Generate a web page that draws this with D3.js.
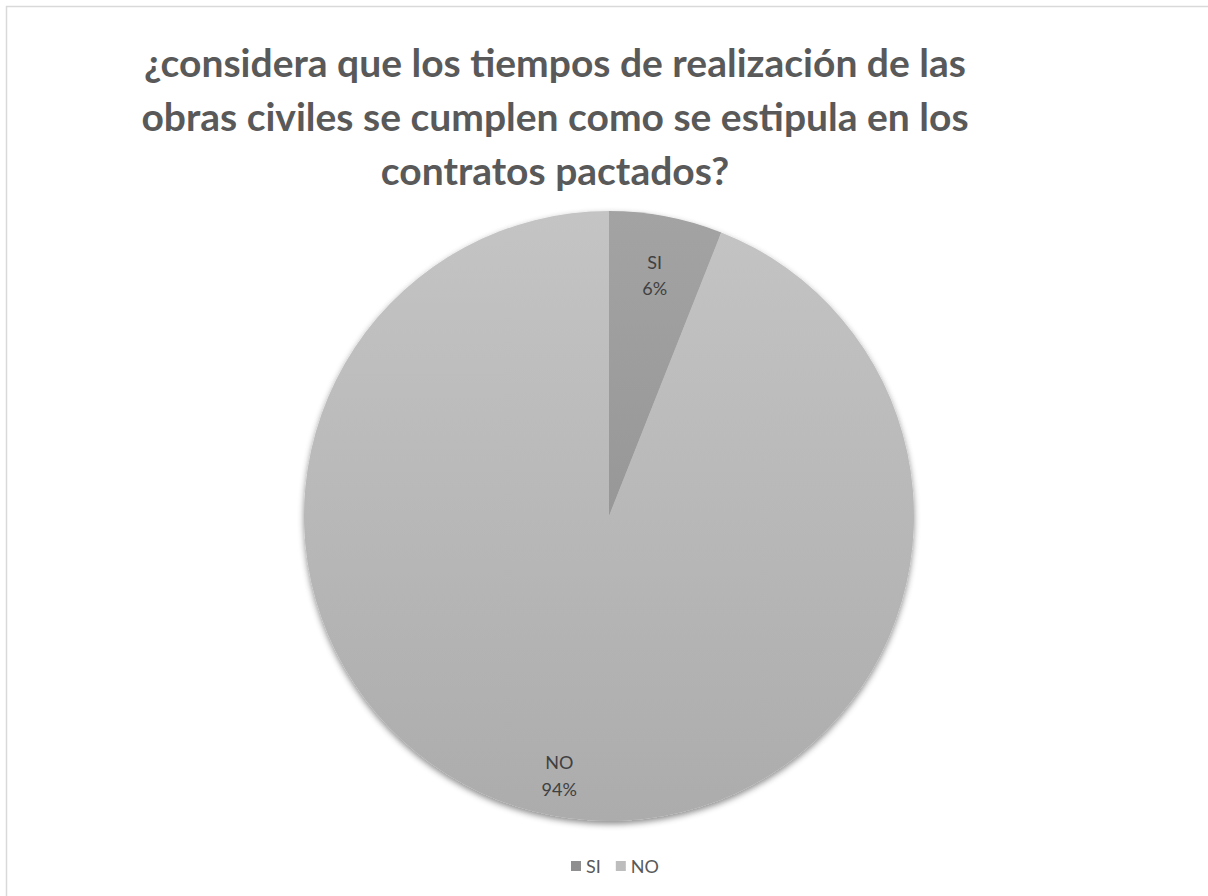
<!DOCTYPE html>
<html>
<head>
<meta charset="utf-8">
<script src="https://cdn.jsdelivr.net/npm/d3@7"></script>
<style>
  body { margin: 0; background: #fff; }
  svg { display: block; }
</style>
</head>
<body>
<svg id="chart" width="1208" height="896"></svg>
<script>
// chart data
var categories = ["SI", "NO"];
var values = [6, 94];
var titleLines = [
    "¿considera que los tiempos de realización de las",
    "obras civiles se cumplen como se estipula en los",
    "contratos pactados?"
];

var svg = d3.select("#chart");
var width = 1208, height = 896;
var cx = 609, cy = 516, radius = 305;

// chart area border (goes past right/bottom edge)
svg.append("rect")
    .attr("x", 6.5).attr("y", 6.5)
    .attr("width", 1220).attr("height", 910)
    .attr("fill", "#fff")
    .attr("stroke", "#d9d9d9")
    .attr("stroke-width", 1.5);

var defs = svg.append("defs");

var shadow = defs.append("filter").attr("id", "shadow")
    .attr("x", "-10%").attr("y", "-10%").attr("width", "120%").attr("height", "120%");
shadow.append("feDropShadow")
    .attr("dx", 0).attr("dy", 3)
    .attr("stdDeviation", 3)
    .attr("flood-color", "#000")
    .attr("flood-opacity", 0.45);

var gradColors = {
    SI: ["#a3a3a3", "#8c8c8c"],
    NO: ["#c4c4c4", "#acacac"]
};
categories.forEach(function(c) {
    var grad = defs.append("linearGradient").attr("id", "grad-" + c)
        .attr("gradientUnits", "userSpaceOnUse")
        .attr("x1", 0).attr("y1", -radius).attr("x2", 0).attr("y2", radius);
    grad.append("stop").attr("offset", "0%").attr("stop-color", gradColors[c][0]);
    grad.append("stop").attr("offset", "100%").attr("stop-color", gradColors[c][1]);
});

// title
var title = svg.append("text")
    .attr("text-anchor", "middle")
    .attr("font-family", "Lato, 'Open Sans', sans-serif")
    .attr("font-weight", "bold")
    .attr("font-size", 39)
    .attr("fill", "#595959");
titleLines.forEach(function(line, i) {
    title.append("tspan")
        .attr("x", 555)
        .attr("y", 77 + i * 54)
        .text(line);
});

var data = categories.map(function(c, i) { return { name: c, value: values[i] }; });
var total = d3.sum(values);

var pie = d3.pie().sort(null).value(function(d) { return d.value; });
var arc = d3.arc().innerRadius(0).outerRadius(radius);

var g = svg.append("g").attr("transform", "translate(" + cx + "," + cy + ")");

var slices = g.append("g").attr("filter", "url(#shadow)");
slices.selectAll("path")
    .data(pie(data))
    .enter().append("path")
    .attr("d", arc)
    .attr("fill", function(d) { return "url(#grad-" + d.data.name + ")"; });

// data labels (fraction of radius from centre)
var labelPos = { SI: 0.80, NO: 0.87 };
var labels = g.selectAll(".label")
    .data(pie(data))
    .enter().append("text")
    .attr("class", "label")
    .attr("text-anchor", "middle")
    .attr("font-family", "Lato, 'Open Sans', sans-serif")
    .attr("font-size", 18)
    .attr("fill", "#404040")
    .attr("transform", function(d) {
        var a = (d.startAngle + d.endAngle) / 2;
        var r = radius * labelPos[d.data.name];
        return "translate(" + (r * Math.sin(a)) + "," + (-r * Math.cos(a)) + ")";
    });
labels.append("tspan").attr("x", 0).attr("dy", "-0.4em")
    .text(function(d) { return d.data.name; });
labels.append("tspan").attr("x", 0).attr("dy", "1.45em")
    .text(function(d) { return Math.round(d.data.value / total * 100) + "%"; });

// legend
var legendColors = { SI: "#8f8f8f", NO: "#bdbdbd" };
var legend = svg.append("g").attr("transform", "translate(571,866)");
var lx = 0;
categories.forEach(function(c) {
    var item = legend.append("g").attr("transform", "translate(" + lx + ",0)");
    item.append("rect").attr("x", 0).attr("y", -5).attr("width", 10).attr("height", 10)
        .attr("fill", legendColors[c]);
    var t = item.append("text").attr("x", 15).attr("y", 6.5)
        .attr("font-family", "Lato, 'Open Sans', sans-serif")
        .attr("font-size", 18)
        .attr("fill", "#595959")
        .text(c);
    lx += 15 + t.node().getComputedTextLength() + 15;
});
</script>
</body>
</html>
